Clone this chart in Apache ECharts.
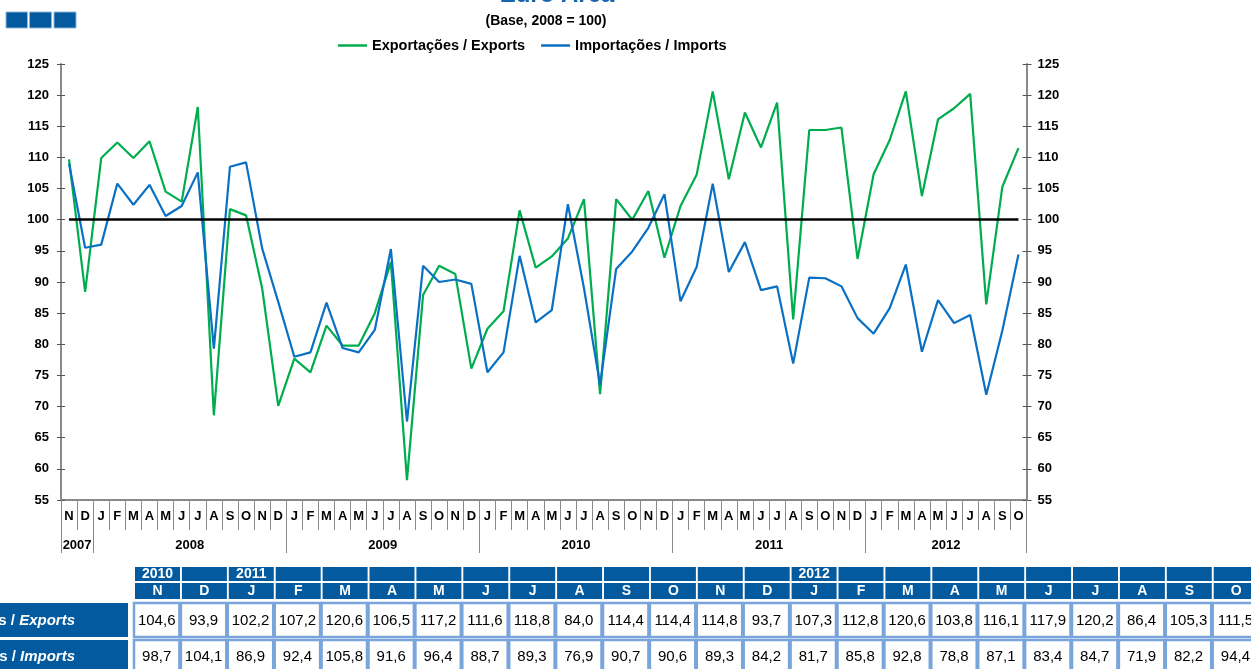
<!DOCTYPE html>
<html><head><meta charset="utf-8">
<script src="https://cdn.jsdelivr.net/npm/echarts@6/dist/echarts.min.js"></script>
<style>html,body{margin:0;padding:0;background:#fff;overflow:hidden}#c{width:1251px;height:669px}</style>
</head><body><div id="c"></div>
<script>
// ---- data ----
const monthLetters = ['N','D',
  'J','F','M','A','M','J','J','A','S','O','N','D',
  'J','F','M','A','M','J','J','A','S','O','N','D',
  'J','F','M','A','M','J','J','A','S','O','N','D',
  'J','F','M','A','M','J','J','A','S','O','N','D',
  'J','F','M','A','M','J','J','A','S','O'];
const yearLabels = ['2007','2008','2009','2010','2011','2012'];
const yearLabelPos = [1, 8, 20, 32, 44, 55];
const yearBounds = [0, 2, 14, 26, 38, 50, 60];

const exports = [109.7, 88.4, 109.9, 112.4, 109.9, 112.6, 104.5, 102.9, 118.1, 68.6, 101.7, 100.7,
  89.0, 70.1, 77.7, 75.5, 83.0, 79.8, 79.8, 85.0, 93.2, 58.2, 87.9, 92.6, 91.3, 76.1,
  82.5, 85.3, 101.5, 92.3, 94.1, 97.0, 103.3, 72.0, 103.3, 100.0,
  104.6, 93.9, 102.2, 107.2, 120.6, 106.5, 117.2, 111.6, 118.8, 84.0, 114.4, 114.4,
  114.8, 93.7, 107.3, 112.8, 120.6, 103.8, 116.1, 117.9, 120.2, 86.4, 105.3, 111.5];
const imports = [109.0, 95.5, 96.0, 105.8, 102.4, 105.6, 100.6, 102.2, 107.6, 79.3, 108.5, 109.2,
  95.4, 86.8, 78.0, 78.7, 86.7, 79.4, 78.7, 82.3, 95.3, 67.6, 92.6, 90.0, 90.4, 89.7,
  75.5, 78.7, 94.2, 83.5, 85.5, 102.5, 89.0, 73.5, 92.1, 94.9,
  98.7, 104.1, 86.9, 92.4, 105.8, 91.6, 96.4, 88.7, 89.3, 76.9, 90.7, 90.6,
  89.3, 84.2, 81.7, 85.8, 92.8, 78.8, 87.1, 83.4, 84.7, 71.9, 82.2, 94.4];
const baseValue = 100;

const tableStart = 36;
const tableYears = ['2010','','2011','','','','','','','','','','','','2012','','','','','','','','',''];
const tableMonths = monthLetters.slice(tableStart);
const tableExports = exports.slice(tableStart);
const tableImports = imports.slice(tableStart);

const seriesNames = ['Exportações / Exports', 'Importações / Imports'];
const rowLabelsA = ['Exportações / ', 'Importações / '];
const rowLabelsB = ['Exports', 'Imports'];

// ---- chart ----
const cats = monthLetters.map((m, i) => String(i));
const fmt = v => v.toFixed(1).replace('.', ',');
const BLUE_H = '#035a9e';
const FONT = 'Liberation Sans, Arial, sans-serif';

const graphic = [];
[[6,12,21.5],[29.5,12,22],[54,12,22]].forEach(s => graphic.push({type:'rect', shape:{x:s[0], y:s[1], width:s[2], height:16},
  style:{fill:BLUE_H, stroke:'#8fb3d9', lineWidth:1}}));
graphic.push({type:'text', x:557, y:7, style:{text:'Euro Area', fill:'#1a64ad', font:'bold 24px ' + FONT,
  align:'center', verticalAlign:'bottom', textAlign:'center', textVerticalAlign:'bottom'}});
graphic.push({type:'text', x:546, y:21, style:{text:'(Base, 2008 = 100)', fill:'#000', font:'bold 14px ' + FONT,
  align:'center', verticalAlign:'middle', textAlign:'center', textVerticalAlign:'middle'}});

const P = 46.9;
for (let k = 0; k < tableMonths.length; k++) {
  const hx = 135 + P * k;
  graphic.push({type:'rect', shape:{x:hx, y:567, width:45, height:14}, style:{fill:BLUE_H}});
  graphic.push({type:'rect', shape:{x:hx, y:583, width:45, height:16}, style:{fill:BLUE_H}});
  if (tableYears[k]) graphic.push({type:'text', x:hx+22.5, y:574.5, style:{text:tableYears[k], fill:'#fff', font:'bold 14px ' + FONT,
    align:'center', verticalAlign:'middle', textAlign:'center', textVerticalAlign:'middle'}});
  graphic.push({type:'text', x:hx+22.5, y:591.5, style:{text:tableMonths[k], fill:'#fff', font:'bold 14px ' + FONT,
    align:'center', verticalAlign:'middle', textAlign:'center', textVerticalAlign:'middle'}});
  const dx = 134 + P * k;
  graphic.push({type:'rect', shape:{x:dx, y:603, width:P-1.5, height:34}, style:{fill:'#fff', stroke:'#7aa5dc', lineWidth:2.5}});
  graphic.push({type:'rect', shape:{x:dx, y:640, width:P-1.5, height:40}, style:{fill:'#fff', stroke:'#7aa5dc', lineWidth:2.5}});
  graphic.push({type:'text', x:dx+(P-1.5)/2, y:620.5, style:{text:fmt(tableExports[k]), fill:'#000', font:'15px ' + FONT,
    align:'center', verticalAlign:'middle', textAlign:'center', textVerticalAlign:'middle'}});
  graphic.push({type:'text', x:dx+(P-1.5)/2, y:656.5, style:{text:fmt(tableImports[k]), fill:'#000', font:'15px ' + FONT,
    align:'center', verticalAlign:'middle', textAlign:'center', textVerticalAlign:'middle'}});
}
[[603,34,620.5],[640,40,656.5]].forEach((r, i) => {
  graphic.push({type:'rect', shape:{x:-2, y:r[0], width:130, height:r[1]}, style:{fill:BLUE_H}});
  graphic.push({type:'text', x:75, y:r[2], style:{
    text:'{a|' + rowLabelsA[i] + '}{b|' + rowLabelsB[i] + '}',
    align:'right', verticalAlign:'middle', textAlign:'right', textVerticalAlign:'middle',
    rich:{a:{fill:'#fff', font:'bold 15px ' + FONT}, b:{fill:'#fff', font:'italic bold 15px ' + FONT}}}});
});

const axisGray = '#8a8a8a';
const yBase = {type:'value', min:55, max:125, interval:5, splitLine:{show:false}};
const option = {
  animation:false,
  backgroundColor:'#fff',
  textStyle:{fontFamily:FONT},
  legend:{top:33, left:333, icon:'rect', itemWidth:29, itemHeight:2.5, itemGap:16,
    textStyle:{fontWeight:'bold', fontSize:14.5, color:'#000', fontFamily:FONT},
    data:seriesNames},
  grid:{left:61, right:224.5, top:64, bottom:169, containLabel:false},
  xAxis:[
    {type:'category', data:cats, boundaryGap:true,
     axisLine:{lineStyle:{color:axisGray, width:2}},
     axisTick:{show:true, interval:0, length:30, lineStyle:{color:axisGray, width:1}},
     axisLabel:{interval:0, margin:10, fontWeight:'bold', fontSize:13, color:'#000',
       formatter:(v, i) => monthLetters[Number(v)]}},
    {type:'value', min:0, max:60, position:'bottom',
     axisLine:{show:false}, splitLine:{show:false},
     axisTick:{show:true, customValues:yearBounds, length:53, lineStyle:{color:axisGray, width:1}},
     axisLabel:{show:true, customValues:yearLabelPos, margin:39, fontWeight:'bold', fontSize:13, color:'#000',
       formatter:v => yearLabels[yearLabelPos.indexOf(Math.round(v))] || ''}}
  ],
  yAxis:[
    Object.assign({}, yBase, {position:'left',
      axisLine:{show:true, lineStyle:{color:axisGray, width:2}},
      axisTick:{show:true, length:4, lineStyle:{color:'#555'}},
      axisLabel:{margin:12, fontWeight:'bold', fontSize:13, color:'#000'}}),
    Object.assign({}, yBase, {position:'left',
      axisLine:{show:false}, axisTick:{show:true, inside:true, length:4, lineStyle:{color:'#555'}},
      axisLabel:{show:false}}),
    Object.assign({}, yBase, {position:'right',
      axisLine:{show:true, lineStyle:{color:axisGray, width:2}},
      axisTick:{show:true, length:5, lineStyle:{color:'#555'}},
      axisLabel:{margin:11, fontWeight:'bold', fontSize:13, color:'#000'}}),
    Object.assign({}, yBase, {position:'right',
      axisLine:{show:false}, axisTick:{show:true, inside:true, length:4, lineStyle:{color:'#555'}},
      axisLabel:{show:false}})
  ],
  series:[
    {name:seriesNames[0], type:'line', data:exports, xAxisIndex:0, yAxisIndex:0,
     symbol:'none', showSymbol:false, lineStyle:{color:'#00ad4e', width:2.2}, itemStyle:{color:'#00ad4e'}, z:3},
    {name:seriesNames[1], type:'line', data:imports, xAxisIndex:0, yAxisIndex:0,
     symbol:'none', showSymbol:false, lineStyle:{color:'#0a70c4', width:2.2}, itemStyle:{color:'#0a70c4'}, z:4,
     markLine:{silent:true, symbol:'none', z:10, label:{show:false},
       lineStyle:{color:'#000', width:2.5, type:'solid'},
       data:[[{coord:[cats[0], baseValue]}, {coord:[cats[cats.length-1], baseValue]}]]}}
  ],
  graphic:graphic
};
const chart = echarts.init(document.getElementById('c'), null, {renderer:'canvas'});
chart.setOption(option);
</script>
</body></html>
